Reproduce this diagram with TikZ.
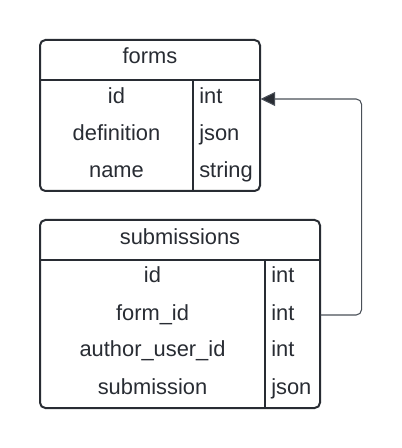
\documentclass[tikz,border=0pt]{standalone}
\usepackage{fontspec}
\setmainfont{Liberation Sans}
\usepackage{tikz}
\usetikzlibrary{arrows.meta}
\definecolor{ink}{HTML}{282C33}
\definecolor{wire}{HTML}{4A5058}
\tikzstyle{table}=[draw=ink, line width=1.5pt, rounded corners=4pt]
\tikzstyle{rule}=[draw=ink, line width=1.5pt]
\tikzstyle{field}=[text=ink, font=\fontsize{16.4}{19}\selectfont, inner sep=0pt, anchor=base]
\tikzstyle{link}=[draw=wire, line width=0.8pt, rounded corners=4pt, -{Triangle[length=11pt, width=10.5pt, fill=ink]}]
\tikzset{kind/.style={field, anchor=base west, inner xsep=4.5pt, text height=11pt, text depth=3.5pt, text width=#1}}

\begin{document}
\begin{tikzpicture}[x=0.75pt, y=-0.75pt]
                    \useasboundingbox (0,0) rectangle (401,448);
                    % forms
                    \draw[table] (40,40) rectangle (260,191);
                    \draw[rule]  (40,80) -- (260,80);
                    \draw[rule]  (193,80) -- (193,191);
                    \node[field] (f0) at (150,64) {forms};
                    \node[field] (f1) at (116.5,104) {id};
                    \node[field] (f2) at (116.5,140.7) {definition};
                    \node[field] (f3) at (116.5,177.4) {name};
                    \node[kind=41.25pt] (f1t) at (193,104) {int};
                    \node[kind=41.25pt] (f2t) at (193,140.7) {json};
                    \node[kind=41.25pt] (f3t) at (193,177.4) {string};
                    % submissions
                    \draw[table] (40,220) rectangle (320,408);
                    \draw[rule]  (40,260) -- (320,260);
                    \draw[rule]  (265,260) -- (265,408);
                    \node[field] (s0) at (180,244.3) {submissions};
                    \node[field] (s1) at (152.5,282.7) {id};
                    \node[field] (s2) at (152.5,320) {form\_id};
                    \node[field] (s3) at (152.5,356.7) {author\_user\_id};
                    \node[field] (s4) at (152.5,394) {submission};
                    \node[kind=32.25pt] (s1t) at (265,282.7) {int};
                    \node[kind=32.25pt] (s2t) at (265,320) {int};
                    \node[kind=32.25pt] (s3t) at (265,356.7) {int};
                    \node[kind=32.25pt] (s4t) at (265,394) {json};
                    % form_id -> forms.id
                    \draw[link] (s2t.east) -- ++(41,0) |- (f1t.east);
                \end{tikzpicture}
\end{document}
